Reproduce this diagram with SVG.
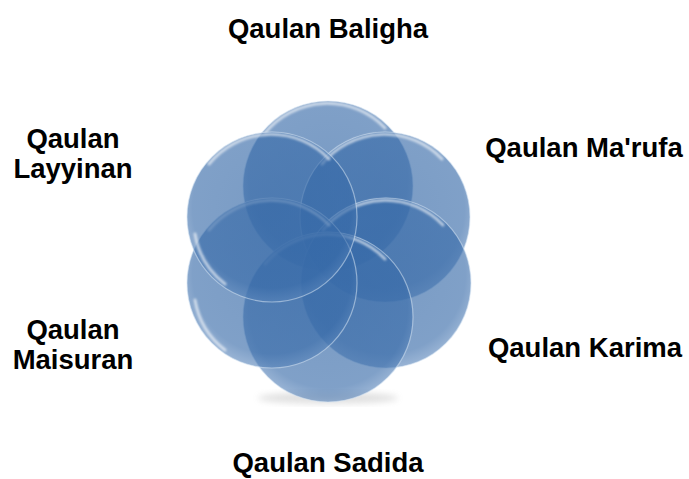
<svg xmlns="http://www.w3.org/2000/svg" width="689" height="479" viewBox="0 0 689 479">
<style>
.lbl{font-family:"Liberation Sans",Arial,sans-serif;font-weight:bold;font-size:27.5px;fill:#000;text-anchor:middle}
.c{fill:url(#g);stroke:#d6e3f2;stroke-opacity:0.55;stroke-width:1.2}
.hl{fill:none;stroke:#ffffff;stroke-opacity:0.6;stroke-width:3;stroke-linecap:round;filter:url(#b)}
</style>
<defs>
<radialGradient id="g" cx="50%" cy="45%" r="55%">
<stop offset="0" stop-color="#3568a6" stop-opacity="0.66"/>
<stop offset="0.85" stop-color="#386ba9" stop-opacity="0.64"/>
<stop offset="1" stop-color="#5582b9" stop-opacity="0.6"/>
</radialGradient>
<filter id="b" x="-20%" y="-20%" width="140%" height="140%"><feGaussianBlur stdDeviation="0.8"/></filter>
<filter id="sh" x="-20%" y="-20%" width="140%" height="140%"><feGaussianBlur stdDeviation="3"/></filter>
</defs>
<g id="shadow" opacity="0.25" filter="url(#sh)">
<ellipse cx="328" cy="398" rx="70" ry="6" fill="#888"/>
</g>
<g id="node-top"><circle class="c" cx="328" cy="186" r="85"/><path class="hl" d="M265 133 A80 80 0 0 1 385 128"/></g>
<g id="node-upper-right"><circle class="c" cx="385" cy="217" r="85"/><path class="hl" d="M322 164 A80 80 0 0 1 442 159"/></g>
<g id="node-lower-right"><circle class="c" cx="386" cy="283" r="85"/><path class="hl" d="M323 230 A80 80 0 0 1 443 225"/></g>
<g id="node-bottom"><circle class="c" cx="328" cy="317" r="85"/><path class="hl" d="M265 264 A80 80 0 0 1 385 259"/></g>
<g id="node-lower-left"><circle class="c" cx="272" cy="283" r="85"/><path class="hl" d="M209 230 A80 80 0 0 1 329 225"/><path class="hl" d="M195 300 A80 80 0 0 0 225 350"/></g>
<g id="node-upper-left"><circle class="c" cx="272" cy="217" r="85"/><path class="hl" d="M209 164 A80 80 0 0 1 329 159"/><path class="hl" d="M195 234 A80 80 0 0 0 225 284"/></g>
<g id="connectors"></g>
<g id="labels">
<text class="lbl" x="328" y="38">Qaulan Baligha</text>
<text class="lbl" x="584" y="157">Qaulan Ma'rufa</text>
<text class="lbl" x="73" y="148">Qaulan</text>
<text class="lbl" x="73" y="178">Layyinan</text>
<text class="lbl" x="73" y="339">Qaulan</text>
<text class="lbl" x="73" y="369">Maisuran</text>
<text class="lbl" x="585" y="357">Qaulan Karima</text>
<text class="lbl" x="328" y="472">Qaulan Sadida</text>
</g>
</svg>
